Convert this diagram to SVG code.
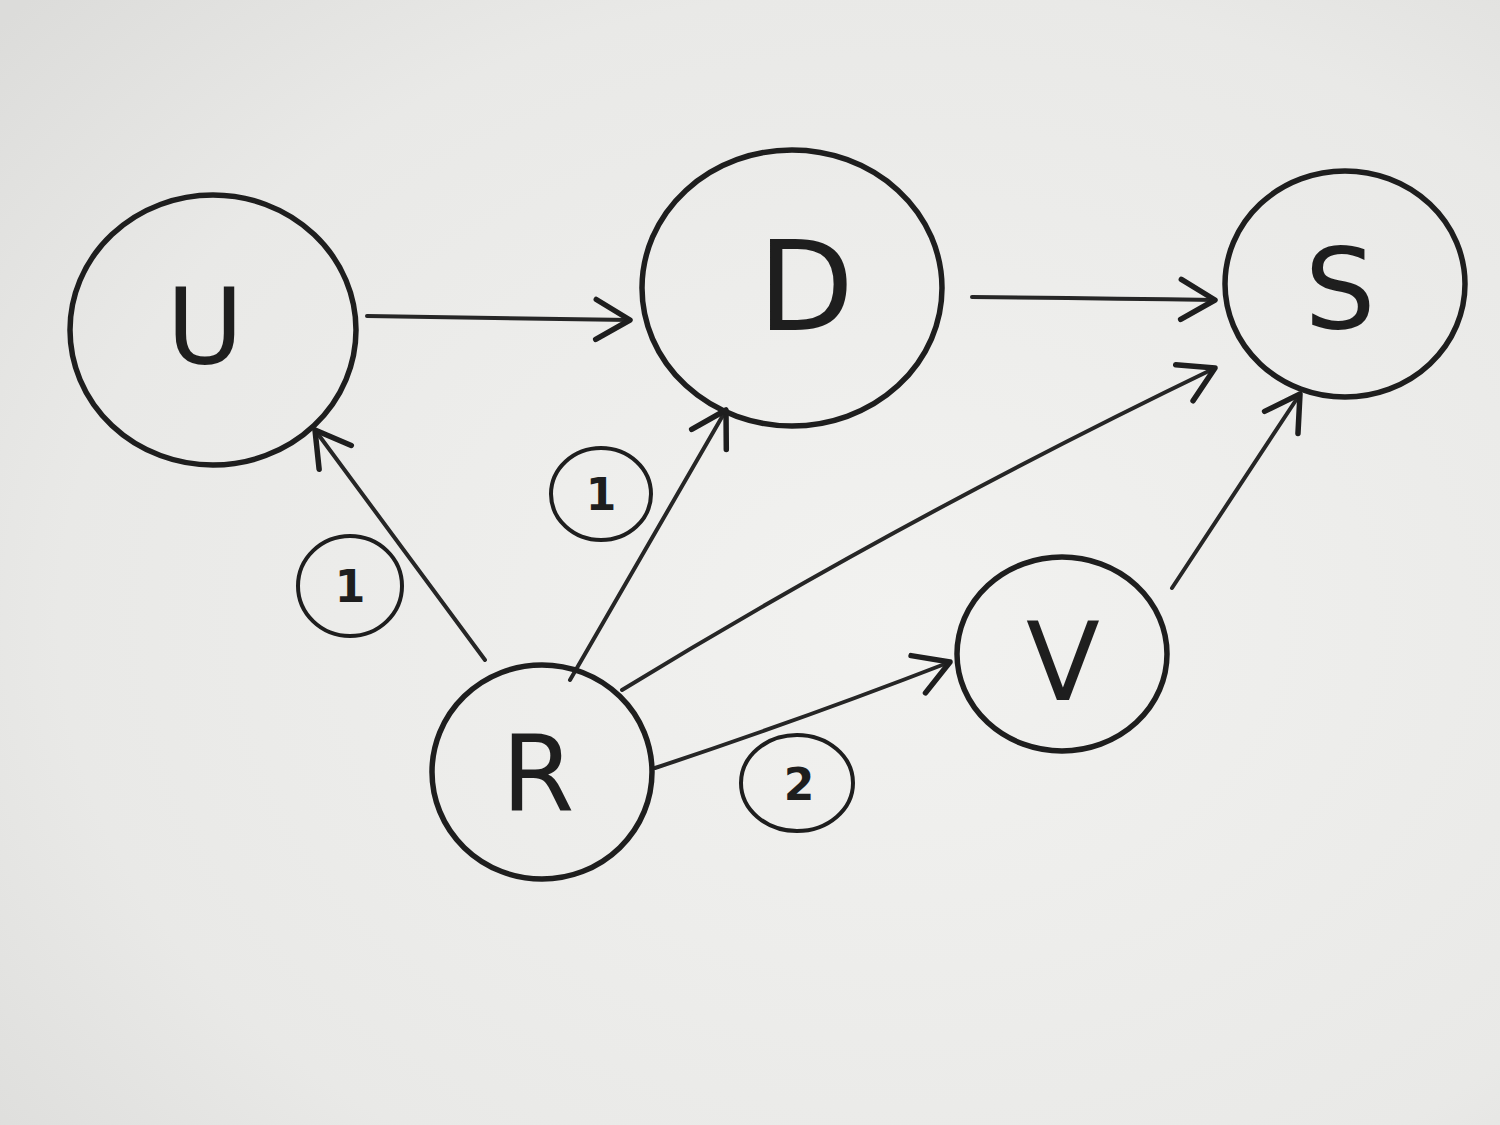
<svg xmlns="http://www.w3.org/2000/svg" width="1500" height="1125" viewBox="0 0 1500 1125">
<defs>
<radialGradient id="bg" cx="0.6" cy="0.55" r="0.8">
<stop offset="0" stop-color="#f2f2f0"/>
<stop offset="0.7" stop-color="#e9e9e7"/>
<stop offset="1" stop-color="#dcdcda"/>
</radialGradient>
<marker id="arr" viewBox="0 0 44 50" refX="40" refY="25" markerWidth="44" markerHeight="50" markerUnits="userSpaceOnUse" orient="auto">
<path d="M6,5 L40,25 L6,45" fill="none" stroke="#1e1e1e" stroke-width="5.5" stroke-linecap="round" stroke-linejoin="round"/>
</marker>
<style>
.node{fill:none;stroke:#1e1e1e;stroke-width:5.5}
.lab{fill:none;stroke:#1e1e1e;stroke-width:4}
.edge{fill:none;stroke:#262626;stroke-width:4;stroke-linecap:round;marker-end:url(#arr)}
.t{font-family:"DejaVu Sans","Liberation Sans",sans-serif;fill:#1e1e1e;text-anchor:middle}
.n{font-family:"DejaVu Sans","Liberation Sans",sans-serif;fill:#1e1e1e;text-anchor:middle;font-size:44px;font-weight:bold}
</style>
</defs>
<rect width="1500" height="1125" fill="url(#bg)"/>
<g id="connectors">
<path class="edge" d="M367,316 Q500,318 630,320"/>
<path class="edge" d="M972,297 Q1100,298 1215,300"/>
<path class="edge" d="M485,660 L315,430"/>
<path class="edge" d="M570,680 L726,410"/>
<path class="edge" d="M622,690 Q900,520 1215,368"/>
<path class="edge" d="M655,768 Q800,720 950,662"/>
<path class="edge" d="M1172,588 L1300,394"/>
</g>
<g id="node-U"><ellipse class="node" cx="213" cy="330" rx="143" ry="135"/><text class="t" x="205" y="364" font-size="105">U</text></g>
<g id="node-D"><ellipse class="node" cx="792" cy="288" rx="150" ry="138"/><text class="t" x="806" y="330" font-size="125">D</text></g>
<g id="node-S"><ellipse class="node" cx="1345" cy="284" rx="120" ry="113"/><text class="t" x="1340" y="328" font-size="112">S</text></g>
<g id="node-V"><ellipse class="node" cx="1062" cy="654" rx="105" ry="97"/><text class="t" x="1063" y="700" font-size="108">V</text></g>
<g id="node-R"><ellipse class="node" cx="542" cy="772" rx="110" ry="107"/><text class="t" x="538" y="810" font-size="105">R</text></g>
<g id="label-1a"><ellipse class="lab" cx="350" cy="586" rx="52" ry="50"/><text class="n" x="350" y="602">1</text></g>
<g id="label-1b"><ellipse class="lab" cx="601" cy="494" rx="50" ry="46"/><text class="n" x="601" y="510">1</text></g>
<g id="label-2"><ellipse class="lab" cx="797" cy="783" rx="56" ry="48"/><text class="n" x="799" y="800">2</text></g>
</svg>
